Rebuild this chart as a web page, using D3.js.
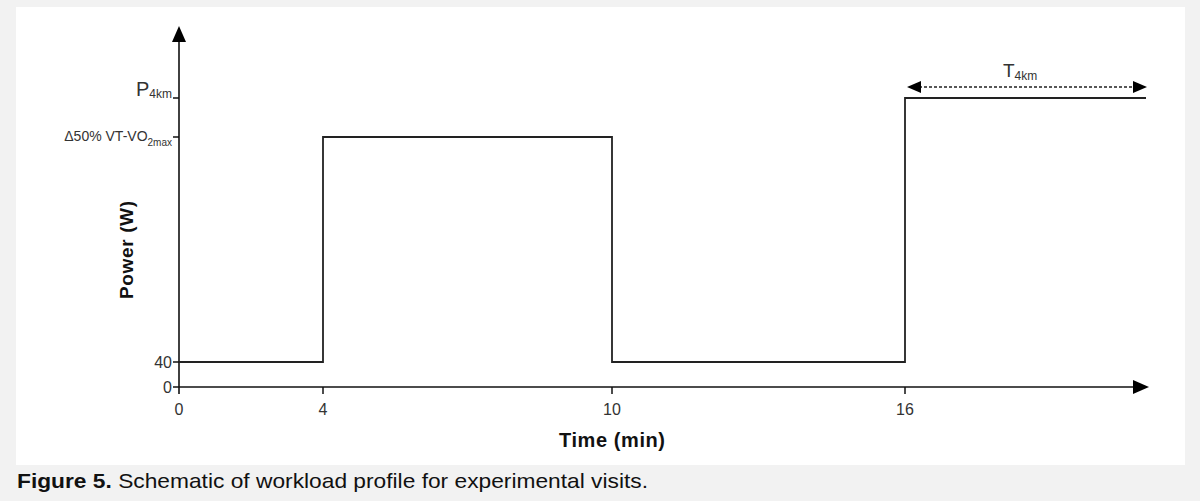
<!DOCTYPE html>
<html><head><meta charset="utf-8">
<script src="https://cdn.jsdelivr.net/npm/d3@7"></script>
<style>
html,body{margin:0;padding:0;background:#f2f2f2;}
svg{display:block;font-family:"Liberation Sans",Arial,sans-serif;}
</style></head>
<body>
<svg id="c" width="1200" height="501"></svg>
<script>
// Schematic data
const timeTicks = [0, 4, 10, 16];
const timeEnd = 20.9;
const powerLevels = [0, 40, 200, 235];           // nominal schematic levels
const powerTickLabels = ["0", "40", "Δ50% VT-VO|2max", "P|4km"];
const stepTimes  = [0, 4, 4, 10, 10, 16, 16, 20.9];
const stepPowers = [40, 40, 200, 200, 40, 40, 235, 235];

const svg = d3.select("#c");
svg.append("rect").attr("x",16).attr("y",7).attr("width",1169).attr("height",458).attr("fill","#fff");

// piecewise (schematic) scales
const x = d3.scaleLinear().domain([0,4,10,16,timeEnd]).range([179,323,612,905,1146]);
const y = d3.scaleLinear().domain(powerLevels).range([387,362,137,98]);

const ink = "#111";
// axes lines
svg.append("line").attr("x1",x(0)).attr("x2",1136).attr("y1",y(0)).attr("y2",y(0)).attr("stroke",ink).attr("stroke-width",1.6);
svg.append("line").attr("x1",x(0)).attr("x2",x(0)).attr("y1",y(0)+7).attr("y2",40).attr("stroke",ink).attr("stroke-width",1.6);
// arrowheads
svg.append("path").attr("d",`M${x(0)},26 L${x(0)-7},42 L${x(0)+7},42 Z`).attr("fill","#000");
svg.append("path").attr("d",`M1149,${y(0)} L1133,${y(0)-7} L1133,${y(0)+7} Z`).attr("fill","#000");

// x ticks
const xt = svg.append("g");
timeTicks.forEach(t=>{
  if(t!==0) xt.append("line").attr("x1",x(t)).attr("x2",x(t)).attr("y1",y(0)).attr("y2",y(0)+7).attr("stroke",ink).attr("stroke-width",1.5);
  xt.append("text").attr("x",x(t)).attr("y",y(0)+28).attr("text-anchor","middle")
    .attr("font-size",16).attr("fill","#333").text(t);
});

// y ticks
powerLevels.forEach((v,i)=>{
  svg.append("line").attr("x1",x(0)-6).attr("x2",x(0)).attr("y1",y(v)).attr("y2",y(v)).attr("stroke",ink).attr("stroke-width",1.5);
  const parts = powerTickLabels[i].split("|");
  const big = i===3;
  const t = svg.append("text").attr("x",x(0)-7).attr("y",y(v)+(big?-2:(i===2?4:6))).attr("text-anchor","end")
    .attr("fill","#333").attr("font-size", big?20:(i===2?14:16));
  t.append("tspan").text(parts[0]);
  if(parts[1]) t.append("tspan").attr("dy",big?2:5).attr("font-size",big?12:10).text(parts[1]);
});

// step profile
const pts = stepTimes.map((t,i)=>[x(t), y(stepPowers[i])]);
svg.append("path").attr("d",d3.line()(pts)).attr("fill","none").attr("stroke","#222").attr("stroke-width",1.8);

// T4km dashed double arrow
const ay = 87, ax1 = x(16)+2, ax2 = x(timeEnd)+1;
svg.append("line").attr("x1",ax1+12).attr("x2",ax2-12).attr("y1",ay).attr("y2",ay)
  .attr("stroke","#222").attr("stroke-width",1.5).attr("stroke-dasharray","3,2");
svg.append("path").attr("d",`M${ax1},${ay} L${ax1+14},${ay-6} L${ax1+14},${ay+6} Z`).attr("fill","#000");
svg.append("path").attr("d",`M${ax2},${ay} L${ax2-14},${ay-6} L${ax2-14},${ay+6} Z`).attr("fill","#000");
const tl = svg.append("text").attr("x",1003).attr("y",77).attr("font-size",19).attr("fill","#333");
tl.append("tspan").text("T");
tl.append("tspan").attr("dy",3).attr("font-size",12).text("4km");

// axis titles
svg.append("text").attr("x",x(10)).attr("y",447).attr("text-anchor","middle").attr("font-size",20)
  .attr("font-weight","bold").attr("fill","#111").attr("textLength",106).text("Time (min)");
svg.append("text").attr("transform","translate(133,250) rotate(-90)").attr("text-anchor","middle")
  .attr("font-size",19).attr("font-weight","bold").attr("fill","#111").attr("textLength",98).text("Power (W)");

// caption
const cap = svg.append("text").attr("x",17).attr("y",488).attr("font-size",21).attr("fill","#111")
  .attr("textLength",631).attr("lengthAdjust","spacingAndGlyphs");
cap.append("tspan").attr("font-weight","bold").text("Figure 5.");
cap.append("tspan").text(" Schematic of workload profile for experimental visits.");
</script>
</body></html>
